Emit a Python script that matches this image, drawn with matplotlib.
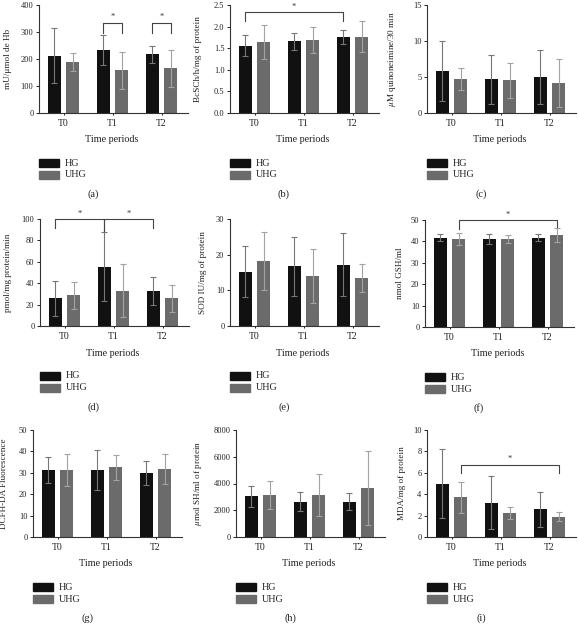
import numpy as np
import matplotlib.pyplot as plt
from matplotlib.patches import Rectangle

plt.rcParams['font.family'] = ['Liberation Serif', 'DejaVu Serif']
plt.rcParams['mathtext.fontset'] = 'stix'

W, H = 578, 627

periods = ['T0', 'T1', 'T2']
groups = ['HG', 'UHG']

# mean and SD per panel
a_hg, a_hg_sd = [212, 233, 217], [101, 55, 31]
a_uhg, a_uhg_sd = [189, 158, 166], [35, 69, 68]

b_hg, b_hg_sd = [1.56, 1.66, 1.75], [0.25, 0.20, 0.16]
b_uhg, b_uhg_sd = [1.65, 1.70, 1.77], [0.39, 0.30, 0.36]

c_hg, c_hg_sd = [5.8, 4.7, 5.0], [4.2, 3.4, 3.7]
c_uhg, c_uhg_sd = [4.75, 4.55, 4.15], [1.55, 2.45, 3.35]

d_hg, d_hg_sd = [25.8, 55.6, 32.7], [16.2, 32.0, 13.0]
d_uhg, d_uhg_sd = [28.8, 32.8, 26.0], [12.6, 24.7, 12.5]

e_hg, e_hg_sd = [15.2, 16.7, 17.2], [7.1, 8.3, 8.9]
e_uhg, e_uhg_sd = [18.2, 14.0, 13.5], [8.2, 7.5, 4.0]

f_hg, f_hg_sd = [41.8, 41.2, 41.8], [1.5, 2.2, 1.7]
f_uhg, f_uhg_sd = [41.2, 41.2, 43.0], [2.8, 1.8, 3.4]

g_hg, g_hg_sd = [31.3, 31.3, 30.0], [6.1, 9.2, 5.6]
g_uhg, g_uhg_sd = [31.3, 32.6, 32.0], [7.4, 5.8, 7.0]

h_hg, h_hg_sd = [3050, 2650, 2650], [800, 730, 650]
h_uhg, h_uhg_sd = [3150, 3150, 3650], [1020, 1580, 2750]

i_hg, i_hg_sd = [5.0, 3.22, 2.6], [3.25, 2.5, 1.65]
i_uhg, i_uhg_sd = [3.7, 2.24, 1.9], [1.45, 0.55, 0.42]

ylabels = ['mU/\u03bcmol de Hb', 'BcSCh/h/mg of protein', '$\\mu$M quinoneimine/30 min',
           'pmol/mg protein/min', 'SOD IU/mg of protein', 'nmol GSH/ml',
           'DCFH-DA Fluorescence', '$\\mu$mol SH/ml of protein', 'MDA/mg of protein']
letters = ['(a)', '(b)', '(c)', '(d)', '(e)', '(f)', '(g)', '(h)', '(i)']
ytops = [400, 2.5, 15, 100, 30, 50, 50, 8000, 10]
ysteps = [100, 0.5, 5, 20, 10, 10, 10, 2000, 2]

# significance brackets: (period1, group1, period2, group2, top, leg1, leg2)
sig = {
    0: [(1, 0, 1, 1, 334, 298, 298), (2, 0, 2, 1, 334, 298, 298)],
    1: [(0, 0, 2, 0, 2.33, 2.12, 2.12)],
    3: [(0, 0, 1, 0, 100, 92, 89), (1, 0, 2, 0, 100, 89, 92)],
    5: [(0, 1, 2, 1, 50, 46, 46.8)],
    8: [(0, 1, 2, 1, 6.75, 5.95, 5.95)],
}

hg_all = [a_hg, b_hg, c_hg, d_hg, e_hg, f_hg, g_hg, h_hg, i_hg]
hg_sd_all = [a_hg_sd, b_hg_sd, c_hg_sd, d_hg_sd, e_hg_sd, f_hg_sd, g_hg_sd, h_hg_sd, i_hg_sd]
uhg_all = [a_uhg, b_uhg, c_uhg, d_uhg, e_uhg, f_uhg, g_uhg, h_uhg, i_uhg]
uhg_sd_all = [a_uhg_sd, b_uhg_sd, c_uhg_sd, d_uhg_sd, e_uhg_sd, f_uhg_sd, g_uhg_sd, h_uhg_sd, i_uhg_sd]

# layout in pixels: axis left, axis top, axis bottom, ylabel offset
lefts = [39, 230, 427, 40, 230, 425, 33, 236, 427]
tops = [5, 5, 5, 219, 219, 220, 430, 430, 430]
bottoms = [113, 113, 113, 326, 326, 327, 537, 537, 537]
ylab_off = [31, 32, 33, 32, 27, 25, 29, 36, 25]

unit = 49.0
xmin, xmax = -0.5, 2.55
off, bw = 0.19, 0.26
bar_colors = ['#111111', '#6b6b6b']
err_colors = ['#777777', '#a3a3a3']

fig = plt.figure(figsize=(W / 100, H / 100), dpi=100)


def fx(px):
    return px / W


def fy(py):
    return 1 - py / H


for k in range(9):
    left, top, bot = lefts[k], tops[k], bottoms[k]
    width = (xmax - xmin) * unit
    ax = fig.add_axes([fx(left), fy(bot), width / W, (bot - top) / H])
    x = np.arange(len(periods))
    series = [(hg_all[k], hg_sd_all[k]), (uhg_all[k], uhg_sd_all[k])]
    for j, (vals, sds) in enumerate(series):
        xs = x + (2 * j - 1) * off
        ax.bar(xs, vals, width=bw, color=bar_colors[j], edgecolor='none', zorder=2)
        ax.errorbar(xs, vals, yerr=sds, fmt='none', ecolor=err_colors[j],
                    elinewidth=0.8, capsize=2.5, capthick=0.8, zorder=3)
    ax.set_xlim(xmin, xmax)
    ax.set_ylim(0, ytops[k])
    ax.set_yticks(np.arange(0, ytops[k] + ysteps[k] / 2, ysteps[k]))
    if k == 1:
        ax.set_yticklabels([f'{v:.1f}' for v in ax.get_yticks()])
    else:
        ax.set_yticklabels([f'{v:.0f}' for v in ax.get_yticks()])
    ax.set_xticks(x)
    ax.set_xticklabels(periods)
    for s in ['top', 'right']:
        ax.spines[s].set_visible(False)
    for s in ['left', 'bottom']:
        ax.spines[s].set_color('#333333')
        ax.spines[s].set_linewidth(0.8)
    ax.tick_params(axis='y', length=2.5, width=0.7, labelsize=6, pad=1.5, colors='#222222')
    ax.tick_params(axis='x', length=1.5, width=0.7, labelsize=7, pad=3, colors='#222222')
    ax.set_ylabel(ylabels[k], fontsize=6.6, color='#222222')
    ax.yaxis.set_label_coords(-(ylab_off[k] - 4) / width, 0.5)

    for (p1, g1, p2, g2, ytop, l1, l2) in sig.get(k, []):
        x1 = p1 + (2 * g1 - 1) * off
        x2 = p2 + (2 * g2 - 1) * off
        ax.plot([x1, x1, x2, x2], [l1, ytop, ytop, l2], color='#444444', lw=0.8,
                clip_on=False, zorder=4)
        ax.text((x1 + x2) / 2, ytop + ytops[k] * 0.015, '*', ha='center', va='bottom',
                fontsize=6, color='#333333', clip_on=False)

    # x label, legend and panel letter
    cx = left + width / 2
    fig.text(fx(cx - 2), fy(bot + 27), 'Time periods', ha='center', va='center',
             fontsize=7.3, color='#222222')
    for j, name in enumerate(groups):
        ymid = bot + 50 + 12 * j
        fig.patches.append(Rectangle((fx(left), fy(ymid + 4)), 20 / W, 8 / H,
                                     transform=fig.transFigure, color=bar_colors[j]))
        fig.text(fx(left + 26), fy(ymid), name, ha='left', va='center', fontsize=7.3,
                 color='#222222')
    fig.text(fx(left + 54), fy(bot + 81), letters[k], ha='center', va='center',
             fontsize=7.5, color='#222222')

plt.savefig('out.png', dpi=100)
